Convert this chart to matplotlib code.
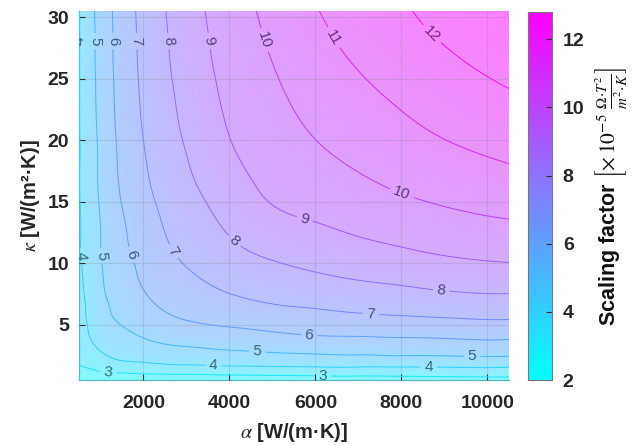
import numpy as np
import matplotlib
matplotlib.use('Agg')
import matplotlib.pyplot as plt
import matplotlib.tri as mtri
from matplotlib.colors import Normalize, LinearSegmentedColormap
from matplotlib.cm import ScalarMappable

plt.rcParams['font.family'] = ['Liberation Sans', 'DejaVu Sans']
plt.rcParams['mathtext.fontset'] = 'stix'

# alpha [W/(m K)] grid (x) and kappa [W/(m^2 K)] grid (y)
alpha_vals = [500, 750, 1000, 1500, 2000, 3000, 4000, 5000, 6000, 7000, 8000, 9000, 10500]
kappa_vals = [0.5, 1, 1.5, 2, 3, 4, 5, 6, 8, 10, 12, 15, 18, 21, 24, 27, 30.5]

# scaling factor, one list per alpha column (values along kappa)
sf_a500 = [2.0, 2.5, 2.88, 3.12, 3.45, 3.63, 3.73, 3.8, 3.87, 3.91, 3.94, 3.955, 3.965, 3.97, 3.975, 3.98, 3.98]
sf_a750 = [2.05, 2.6, 3.05, 3.35, 3.78, 4.0, 4.1, 4.16, 4.25, 4.35, 4.41, 4.48, 4.53, 4.57, 4.62, 4.66, 4.7]
sf_a1000 = [2.1, 2.8, 3.25, 3.6, 4.05, 4.35, 4.55, 4.67, 4.83, 4.93, 4.99, 5.1, 5.17, 5.24, 5.29, 5.33, 5.36]
sf_a1500 = [2.15, 2.9, 3.5, 3.95, 4.45, 4.76, 5.02, 5.2, 5.46, 5.66, 5.83, 6.03, 6.18, 6.27, 6.35, 6.41, 6.45]
sf_a2000 = [2.2, 3.0, 3.6, 4.05, 4.63, 5.03, 5.36, 5.62, 6.03, 6.27, 6.46, 6.7, 6.9, 7.05, 7.15, 7.22, 7.28]
sf_a3000 = [2.25, 3.05, 3.75, 4.22, 4.87, 5.42, 5.87, 6.2, 6.68, 7.05, 7.32, 7.66, 7.94, 8.15, 8.3, 8.44, 8.56]
sf_a4000 = [2.3, 3.15, 3.85, 4.31, 5.05, 5.62, 6.08, 6.49, 7.13, 7.59, 7.97, 8.42, 8.79, 9.05, 9.22, 9.36, 9.5]
sf_a5000 = [2.35, 3.2, 3.88, 4.41, 5.18, 5.78, 6.28, 6.73, 7.41, 7.94, 8.44, 9.04, 9.35, 9.61, 9.84, 10.05, 10.28]
sf_a6000 = [2.4, 3.25, 3.92, 4.46, 5.29, 5.93, 6.45, 6.88, 7.61, 8.2, 8.71, 9.29, 9.74, 10.11, 10.42, 10.68, 10.95]
sf_a7000 = [2.42, 3.28, 3.93, 4.49, 5.34, 5.97, 6.55, 7.02, 7.79, 8.43, 8.96, 9.59, 10.09, 10.49, 10.83, 11.13, 11.42]
sf_a8000 = [2.45, 3.3, 3.93, 4.52, 5.39, 6.03, 6.62, 7.12, 7.93, 8.62, 9.18, 9.87, 10.39, 10.82, 11.2, 11.55, 11.88]
sf_a9000 = [2.5, 3.35, 3.95, 4.52, 5.44, 6.07, 6.69, 7.21, 8.1, 8.81, 9.39, 10.08, 10.65, 11.14, 11.55, 11.92, 12.3]
sf_a10500 = [2.55, 3.4, 3.95, 4.56, 5.46, 6.13, 6.76, 7.3, 8.2, 8.98, 9.58, 10.34, 10.98, 11.51, 11.97, 12.37, 12.78]

contour_levels = [3, 4, 5, 6, 7, 8, 9, 10, 11, 12]
x_ticks = [2000, 4000, 6000, 8000, 10000]
y_ticks = [5, 10, 15, 20, 25, 30]
cbar_ticks = [2, 4, 6, 8, 10, 12]
cmin, cmax = 2.0, 12.8

columns = [sf_a500, sf_a750, sf_a1000, sf_a1500, sf_a2000, sf_a3000, sf_a4000,
           sf_a5000, sf_a6000, sf_a7000, sf_a8000, sf_a9000, sf_a10500]
Z = np.array(columns).T
X, Y = np.meshgrid(alpha_vals, kappa_vals)

fig = plt.figure(figsize=(6.32, 4.45), dpi=100)
ax = fig.add_axes([0.125, 0.146, 0.68, 0.829])
cax = fig.add_axes([0.835, 0.146, 0.038, 0.827])

cmap = plt.get_cmap('cool')
norm = Normalize(vmin=cmin, vmax=cmax)
# translucent (50%) surface over white, as an opaque colormap
_c = cmap(np.linspace(0, 1, 256))[:, :3]
light_cmap = LinearSegmentedColormap.from_list('cool_light', 0.5 * _c + 0.5)

# smooth the read grid with matplotlib's triangulation refiner (nicer contours)
xs = 1000.0
tri = mtri.Triangulation(X.ravel() / xs, Y.ravel())
refiner = mtri.UniformTriRefiner(tri)
tri_f, z_f = refiner.refine_field(Z.ravel(), subdiv=3)
tri_d = mtri.Triangulation(tri_f.x * xs, tri_f.y, triangles=tri_f.triangles)

ax.tripcolor(tri_d, z_f, shading='gouraud', cmap=light_cmap, norm=norm,
             rasterized=True, zorder=1)
cs = ax.tricontour(tri_d, z_f, levels=contour_levels, cmap=cmap, norm=norm,
                   linewidths=0.7, zorder=3)

ax.set_xlim(alpha_vals[0], alpha_vals[-1])
ax.set_ylim(kappa_vals[0], kappa_vals[-1])
ax.set_xticks(x_ticks)
ax.set_yticks(y_ticks)
fig.canvas.draw()

# label placement along each contour at regular on-screen spacing (MATLAB-like)
spacing, first = 215.0, 30.0
manual = []
for segs in cs.allsegs:
    for seg in segs:
        if len(seg) < 2:
            continue
        d = ax.transData.transform(seg)
        if (d[-1, 0] - d[-1, 1]) < (d[0, 0] - d[0, 1]):
            seg = seg[::-1]
            d = d[::-1]
        s = np.concatenate([[0], np.cumsum(np.hypot(*np.diff(d, axis=0).T))])
        L = s[-1]
        if L < 40:
            continue
        t = first
        while t < L - 12:
            i = np.searchsorted(s, t)
            i = min(max(i, 1), len(s) - 1)
            f = (t - s[i - 1]) / max(s[i] - s[i - 1], 1e-9)
            manual.append(tuple(seg[i - 1] + f * (seg[i] - seg[i - 1])))
            t += spacing

lbl_colors = [tuple(np.array(cmap(norm(l))[:3]) * 0.35 + 0.13) for l in contour_levels]
ax.clabel(cs, inline=True, fontsize=11, fmt='%d', colors=lbl_colors,
          manual=manual, inline_spacing=4)

ax.grid(True, color='#888888', alpha=0.25, linewidth=0.8, zorder=2)
ax.set_axisbelow(False)
for s_ in ['top', 'right']:
    ax.spines[s_].set_visible(False)
for s_ in ['left', 'bottom']:
    ax.spines[s_].set_color('#5ab8c4')
    ax.spines[s_].set_linewidth(0.9)
ax.tick_params(direction='in', length=4, width=0.8, color='#333333',
               labelsize=14, labelcolor='#262626')
ax.tick_params(axis='x', pad=11)
ax.tick_params(axis='y', pad=7)
for t_ in ax.get_xticklabels() + ax.get_yticklabels():
    t_.set_fontweight('bold')
ax.set_xlabel(r'$\alpha$ [W/(m·K)]', fontsize=14.5, fontweight='bold', color='#262626', labelpad=6)
ax.set_ylabel(r'$\kappa$ [W/(m²·K)]', fontsize=14.5, fontweight='bold', color='#262626', labelpad=4)

sm = ScalarMappable(norm=norm, cmap=cmap)
cb = fig.colorbar(sm, cax=cax, ticks=cbar_ticks)
cb.outline.set_edgecolor('#777777')
cb.outline.set_linewidth(0.8)
cax.tick_params(direction='in', length=4, width=0.8, color='#333333',
                labelsize=14, labelcolor='#262626', pad=8)
for t_ in cax.get_yticklabels():
    t_.set_fontweight('bold')
cb.set_label(r'Scaling factor $\left[\times\,10^{-5}\ \frac{\Omega{\cdot}T^2}{m^2{\cdot}K}\right]$',
             fontsize=15.5, fontweight='bold', color='#111111', labelpad=6)

fig.savefig('out.png', dpi=100)
